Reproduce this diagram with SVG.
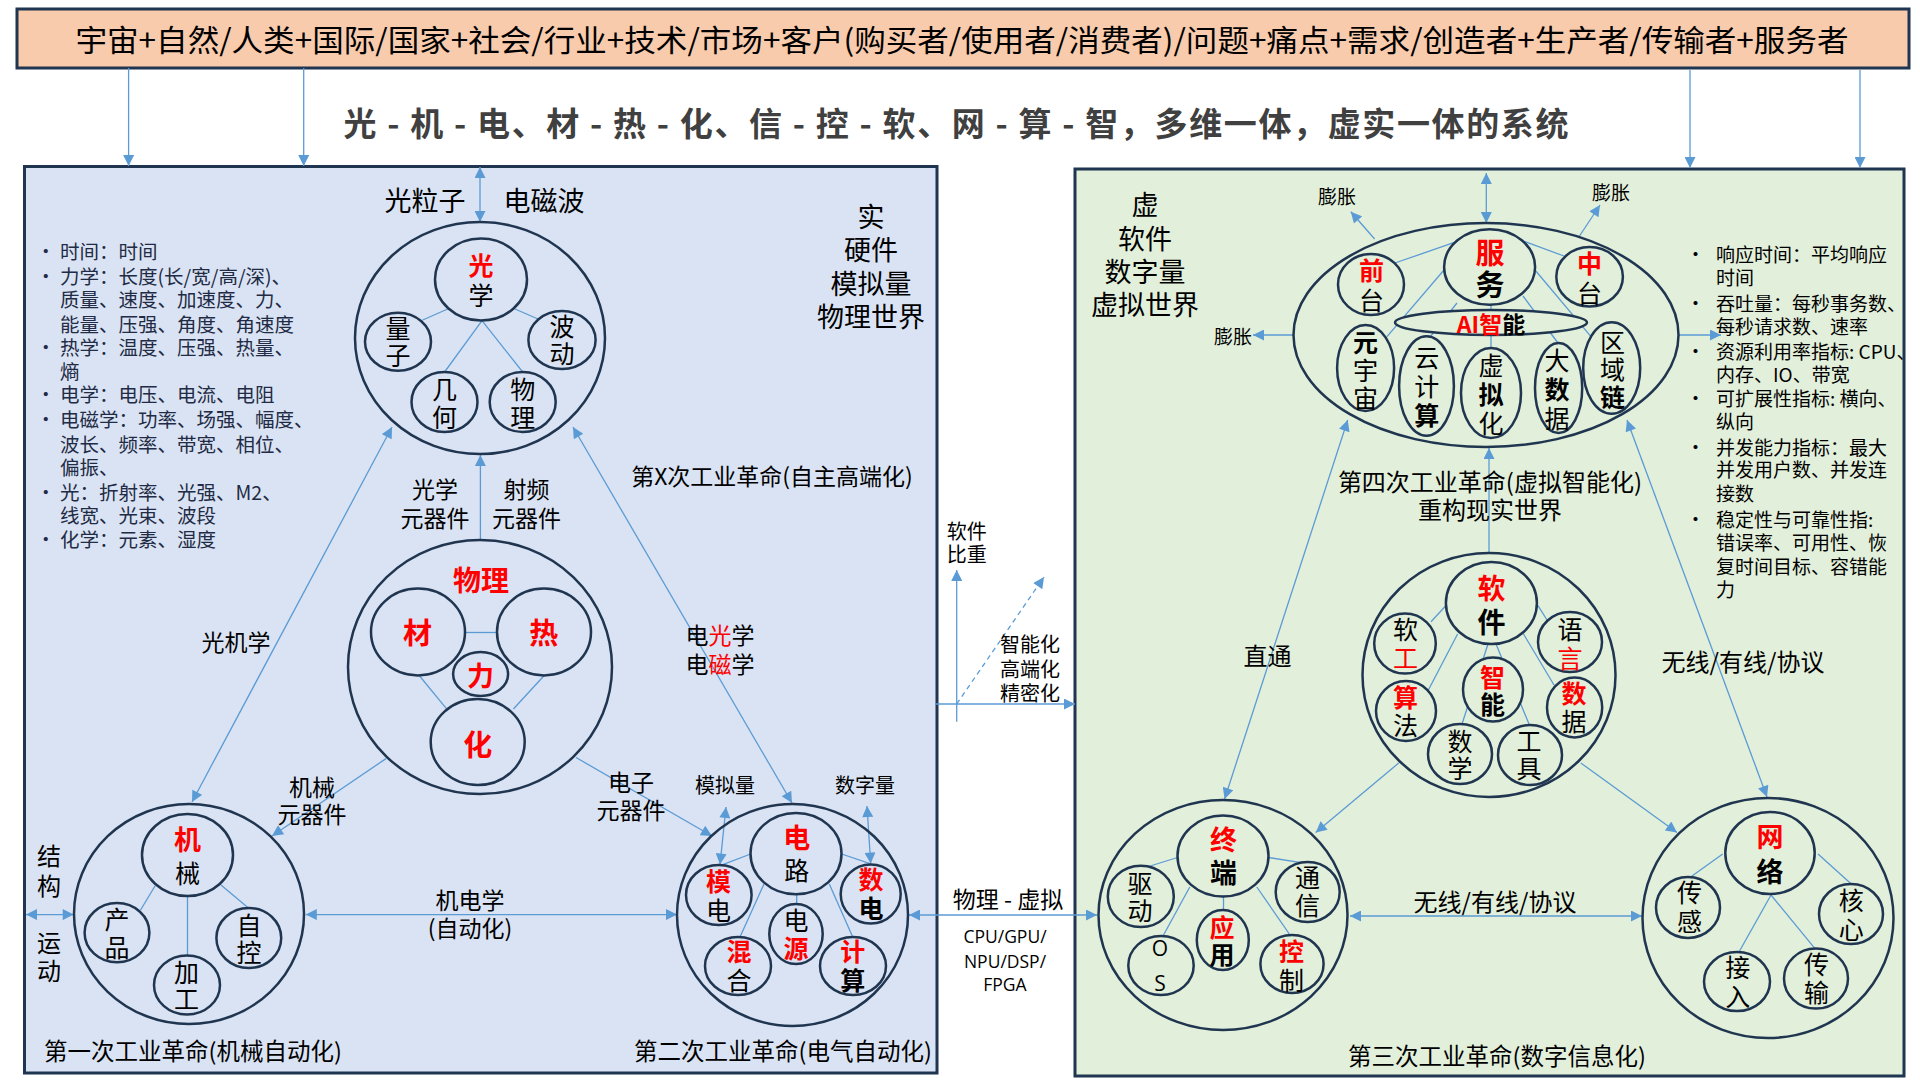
<svg xmlns="http://www.w3.org/2000/svg" width="1920" height="1080" viewBox="0 0 1920 1080">
<defs>
<marker id="ah" viewBox="0 0 10 10" refX="10" refY="5" markerWidth="13" markerHeight="11" markerUnits="userSpaceOnUse" orient="auto-start-reverse">
<path d="M0,0 L10,5 L0,10 z" fill="#5B9BD5"/>
</marker>
<style>
.t{font-family:"Noto Sans CJK SC","Noto Sans",sans-serif;fill:#000;text-anchor:middle;dominant-baseline:central}
.t tspan{dominant-baseline:central}
.v{writing-mode:vertical-rl;text-orientation:upright}
.l{text-anchor:start}
.r{fill:#FF0000;font-weight:bold}
.red{fill:#FF0000}
.b{font-weight:bold}
.o{fill:none;stroke:#1F3550;stroke-width:2.5}
.i{stroke:#1F3550;stroke-width:2.5}
.ib{fill:#DAE3F3}
.ig{fill:#E2EFDA}
.c{fill:none;stroke:#5B9BD5;stroke-width:1.3}
.a{marker-end:url(#ah)}
.a2{marker-start:url(#ah);marker-end:url(#ah)}
.s{font-size:25px}
.m{font-size:23px}
.bl{font-size:19.5px;fill:#222B45}
.br{font-size:19px}
.os{font-family:"Open Sans",sans-serif}
</style>
</defs>
<rect width="1920" height="1080" fill="#FFFFFF"/>
<g id="header">
<rect x="17" y="9" width="1892" height="59" fill="#F8CBAD" stroke="#1F3550" stroke-width="3"/>
<text class="t" x="962" y="38" font-size="30" textLength="1773" lengthAdjust="spacingAndGlyphs">宇宙+自然/人类+国际/国家+社会/行业+技术/市场+客户(购买者/使用者/消费者)/问题+痛点+需求/创造者+生产者/传输者+服务者</text>
</g>
<text class="t b" x="956" y="122" font-size="33" style="fill:#404040" textLength="1225">光 - 机 - 电、材 - 热 - 化、信 - 控 - 软、网 - 算 - 智，多维一体，虚实一体的系统</text>
<rect id="panel-real" x="24.5" y="166.5" width="912.5" height="906.5" fill="#DAE3F3" stroke="#1F3550" stroke-width="3"/>
<rect id="panel-virtual" x="1075" y="169" width="829" height="907" fill="#E2EFDA" stroke="#1F3550" stroke-width="3"/>
<g id="connectors">
<line class="c a" x1="128.6" y1="68" x2="128.6" y2="166"/>
<line class="c a" x1="303.7" y1="68" x2="303.7" y2="166"/>
<line class="c a" x1="1690" y1="70" x2="1690" y2="168"/>
<line class="c a" x1="1860" y1="70" x2="1860" y2="168"/>
<line class="c a2" x1="480" y1="167" x2="480" y2="222"/>
<line class="c a" x1="480.4" y1="540" x2="480.4" y2="455"/>
<line class="c a2" x1="192" y1="802" x2="392" y2="427"/>
<line class="c a2" x1="792" y1="803" x2="573" y2="427"/>
<line class="c a" x1="386" y1="758.6" x2="272" y2="836"/>
<line class="c a" x1="576" y1="757.5" x2="712" y2="836"/>
<line class="c a2" x1="26" y1="914.6" x2="73.7" y2="914.6"/>
<line class="c a2" x1="305.8" y1="914.6" x2="677" y2="914.6"/>
<line class="c a2" x1="726" y1="807" x2="720" y2="864.6"/>
<line class="c a2" x1="867" y1="806" x2="870.7" y2="863.6"/>
<line class="c a2" x1="909" y1="915" x2="1097" y2="915"/>
<line class="c a" x1="956.7" y1="721.7" x2="956.7" y2="570"/>
<line class="c a" x1="935" y1="704" x2="1075" y2="704"/>
<line class="c a" x1="956.7" y1="704" x2="1044" y2="577" stroke-dasharray="5 4"/>
<line class="c a2" x1="1486.3" y1="173" x2="1486.3" y2="223"/>
<line class="c a" x1="1374.6" y1="239" x2="1350.8" y2="211.7"/>
<line class="c a" x1="1579.5" y1="236" x2="1600" y2="205"/>
<line class="c a" x1="1293.8" y1="335" x2="1253" y2="335"/>
<line class="c a" x1="1678.7" y1="335" x2="1721" y2="335"/>
<line class="c a2" x1="1347.7" y1="420" x2="1224.6" y2="799"/>
<line class="c a2" x1="1627" y1="420" x2="1767" y2="797"/>
<line class="c a" x1="1489" y1="553" x2="1489" y2="448"/>
<line class="c a" x1="1398.7" y1="763" x2="1315.7" y2="832.5"/>
<line class="c a" x1="1580.8" y1="763" x2="1677" y2="832.5"/>
<line class="c a2" x1="1350" y1="916" x2="1642" y2="916"/>
</g>
<g id="labels">
<text class="t" x="425" y="199" font-size="27">光粒子</text>
<text class="t" x="544" y="199" font-size="27">电磁波</text>
<text class="t" font-size="27"><tspan x="871" y="215">实</tspan><tspan x="871" y="248">硬件</tspan><tspan x="871" y="282">模拟量</tspan><tspan x="871" y="315">物理世界</tspan></text>
<text class="t m" x="772" y="475">第X次工业革命(自主高端化)</text>
<text class="t m"><tspan x="435" y="488">光学</tspan><tspan x="435" y="517">元器件</tspan></text>
<text class="t m"><tspan x="526.5" y="488">射频</tspan><tspan x="526.5" y="517">元器件</tspan></text>
<text class="t m" x="236" y="641">光机学</text>
<text class="t m"><tspan x="312" y="786">机械</tspan><tspan x="312" y="813">元器件</tspan></text>
<text class="t m"><tspan x="631" y="781">电子</tspan><tspan x="631" y="809">元器件</tspan></text>
<text class="t m"><tspan x="720" y="634">电<tspan class="red">光</tspan>学</tspan><tspan x="720" y="663">电<tspan class="red">磁</tspan>学</tspan></text>
<text class="t" x="725" y="784" font-size="20">模拟量</text>
<text class="t" x="865" y="784" font-size="20">数字量</text>
<text class="t v" x="49" y="874" font-size="24" letter-spacing="6">结构</text>
<text class="t v" x="49" y="959" font-size="24" letter-spacing="4">运动</text>
<text class="t m"><tspan x="470" y="898.6">机电学</tspan><tspan x="470" y="927">(自动化)</tspan></text>
<text class="t" x="193" y="1050" font-size="23.5">第一次工业革命(机械自动化)</text>
<text class="t" x="783" y="1050" font-size="23.5">第二次工业革命(电气自动化)</text>
<text class="t m" x="1008" y="898">物理 - 虚拟</text>
<text class="t os" font-size="17.5"><tspan x="1005" y="936">CPU/GPU/</tspan><tspan x="1005" y="961">NPU/DSP/</tspan><tspan x="1005" y="984">FPGA</tspan></text>
<text class="t l" font-size="20"><tspan x="946.7" y="530">软件</tspan><tspan x="946.7" y="553">比重</tspan></text>
<text class="t l" font-size="20"><tspan x="1000" y="643">智能化</tspan><tspan x="1000" y="668">高端化</tspan><tspan x="1000" y="692">精密化</tspan></text>
<text class="t" font-size="27"><tspan x="1145" y="203">虚</tspan><tspan x="1145" y="237">软件</tspan><tspan x="1145" y="270">数字量</tspan><tspan x="1145" y="303">虚拟世界</tspan></text>
<text class="t" x="1337" y="195" font-size="19">膨胀</text>
<text class="t" x="1611" y="191" font-size="19">膨胀</text>
<text class="t" x="1233" y="335" font-size="19">膨胀</text>
<text class="t" font-size="24"><tspan x="1490" y="480">第四次工业革命(虚拟智能化)</tspan><tspan x="1490" y="508">重构现实世界</tspan></text>
<text class="t" x="1267.5" y="654" font-size="24">直通</text>
<text class="t" x="1743" y="660" font-size="24">无线/有线/协议</text>
<text class="t" x="1495" y="900" font-size="24">无线/有线/协议</text>
<text class="t" x="1497" y="1055" font-size="23.5">第三次工业革命(数字信息化)</text>
</g>
<g id="bullets-physical">
<text class="t l bl">
<tspan x="36" y="250">•</tspan><tspan x="60" y="250">时间：时间</tspan>
<tspan x="36" y="275">•</tspan><tspan x="60" y="275">力学：长度(长/宽/高/深)、</tspan>
<tspan x="60" y="298">质量、速度、加速度、力、</tspan>
<tspan x="60" y="322.7">能量、压强、角度、角速度</tspan>
<tspan x="36" y="346">•</tspan><tspan x="60" y="346">热学：温度、压强、热量、</tspan>
<tspan x="60" y="370">熵</tspan>
<tspan x="36" y="393">•</tspan><tspan x="60" y="393">电学：电压、电流、电阻</tspan>
<tspan x="36" y="418">•</tspan><tspan x="60" y="418">电磁学：功率、场强、幅度、</tspan>
<tspan x="60" y="442.7">波长、频率、带宽、相位、</tspan>
<tspan x="60" y="466">偏振、</tspan>
<tspan x="36" y="491">•</tspan><tspan x="60" y="491">光：折射率、光强、M2、</tspan>
<tspan x="60" y="514">线宽、光束、波段</tspan>
<tspan x="36" y="537.7">•</tspan><tspan x="60" y="537.7">化学：元素、湿度</tspan>
</text>
</g>
<g id="bullets-virtual">
<text class="t l br">
<tspan x="1686" y="253">•</tspan><tspan x="1716" y="253">响应时间：平均响应</tspan>
<tspan x="1716" y="276">时间</tspan>
<tspan x="1686" y="301.7">•</tspan><tspan x="1716" y="301.7">吞吐量：每秒事务数、</tspan>
<tspan x="1716" y="325">每秒请求数、速率</tspan>
<tspan x="1686" y="350">•</tspan><tspan x="1716" y="350">资源利用率指标: CPU、</tspan>
<tspan x="1716" y="372.7">内存、IO、带宽</tspan>
<tspan x="1686" y="396.7">•</tspan><tspan x="1716" y="396.7">可扩展性指标: 横向、</tspan>
<tspan x="1716" y="420">纵向</tspan>
<tspan x="1686" y="446">•</tspan><tspan x="1716" y="446">并发能力指标：最大</tspan>
<tspan x="1716" y="468.3">并发用户数、并发连</tspan>
<tspan x="1716" y="491.7">接数</tspan>
<tspan x="1686" y="517.7">•</tspan><tspan x="1716" y="517.7">稳定性与可靠性指:</tspan>
<tspan x="1716" y="541">错误率、可用性、恢</tspan>
<tspan x="1716" y="565">复时间目标、容错能</tspan>
<tspan x="1716" y="588.3">力</tspan>
</text>
</g>
<g id="node-optics">
<ellipse class="o" cx="480" cy="338" rx="125" ry="116"/>
<g class="c"><line x1="447.7" y1="309" x2="422.7" y2="320"/><line x1="515" y1="309" x2="538" y2="319"/><line x1="482" y1="320.7" x2="444.6" y2="372"/><line x1="482" y1="320.7" x2="522.7" y2="372"/></g>
<g class="i ib">
<ellipse cx="481" cy="279.5" rx="46" ry="41"/><ellipse cx="398" cy="341.7" rx="33" ry="29"/><ellipse cx="562" cy="340" rx="33.6" ry="29"/><ellipse cx="444.5" cy="402" rx="33" ry="30"/><ellipse cx="522.7" cy="402" rx="33" ry="30"/>
</g>
<text class="t s v" x="481" y="282.5" letter-spacing="5"><tspan class="r">光</tspan>学</text>
<text class="t s v" x="398" y="342.5" letter-spacing="2">量子</text>
<text class="t s v" x="562" y="340.5" letter-spacing="2">波动</text>
<text class="t s v" x="444.5" y="404.5" letter-spacing="3">几何</text>
<text class="t s v" x="522.7" y="404.5" letter-spacing="3">物理</text>
</g>
<g id="node-physics">
<ellipse class="o" cx="480" cy="667" rx="132" ry="127"/>
<text class="t r" x="481" y="579" font-size="28">物理</text>
<g class="c"><line x1="465" y1="632.5" x2="497" y2="632.5"/><line x1="419.6" y1="676" x2="446.4" y2="708.6"/><line x1="543.75" y1="676" x2="513.4" y2="709"/></g>
<g class="i ib">
<ellipse cx="418" cy="632" rx="47" ry="43.4"/><ellipse cx="544" cy="632" rx="47" ry="43.4"/><ellipse cx="480.6" cy="674" rx="27.5" ry="22"/><ellipse cx="477.7" cy="742" rx="47" ry="43"/>
</g>
<text class="t r" x="417.4" y="631" font-size="29">材</text>
<text class="t r" x="543.75" y="631" font-size="29">热</text>
<text class="t r" x="480.4" y="674" font-size="27">力</text>
<text class="t r" x="477.7" y="743" font-size="29">化</text>
</g>
<g id="node-mechanical">
<ellipse class="o" cx="189" cy="914" rx="115" ry="110"/>
<g class="c"><line x1="155" y1="886" x2="140.6" y2="910"/><line x1="221" y1="885" x2="247.8" y2="907.5"/><line x1="187.5" y1="896" x2="187.5" y2="955.7"/></g>
<g class="i ib">
<ellipse cx="187.5" cy="855" rx="45.5" ry="41"/><ellipse cx="117" cy="932.7" rx="32.4" ry="29.6"/><ellipse cx="248.8" cy="938" rx="32.4" ry="30"/><ellipse cx="187" cy="985" rx="33" ry="29.5"/>
</g>
<text class="t s v" x="187.5" y="859.5" letter-spacing="7"><tspan class="r" font-size="27">机</tspan>械</text>
<text class="t s v" x="117" y="934.5" letter-spacing="3">产品</text>
<text class="t s v" x="249" y="939.5" letter-spacing="2">自控</text>
<text class="t s v" x="186.6" y="986.5" letter-spacing="2">加工</text>
</g>
<g id="node-electrical">
<ellipse class="o" cx="792.5" cy="915" rx="115.5" ry="111"/>
<g class="c"><line x1="750.7" y1="854" x2="722.7" y2="864.6"/><line x1="841.7" y1="854" x2="870" y2="863.6"/><line x1="796.7" y1="894" x2="796.7" y2="904"/><line x1="764" y1="884" x2="740" y2="937"/><line x1="829.3" y1="884" x2="852.7" y2="937"/></g>
<g class="i ib">
<ellipse cx="796" cy="853.6" rx="45.5" ry="40.7"/><ellipse cx="718.8" cy="895" rx="32.8" ry="30"/><ellipse cx="870.7" cy="894" rx="30" ry="29.5"/><ellipse cx="796" cy="934" rx="26.7" ry="30"/><ellipse cx="738" cy="966" rx="33" ry="29"/><ellipse cx="853" cy="966" rx="33" ry="29"/>
</g>
<text class="t s v" x="796.7" y="857" letter-spacing="7"><tspan class="r" font-size="27">电</tspan>路</text>
<text class="t s v" x="718.5" y="897.5" letter-spacing="4"><tspan class="r">模</tspan>电</text>
<text class="t s v" x="871" y="896" letter-spacing="3.6"><tspan class="r">数</tspan><tspan class="b">电</tspan></text>
<text class="t s v" x="796" y="936" letter-spacing="3"><tspan>电</tspan><tspan class="r">源</tspan></text>
<text class="t s v" x="739" y="968" letter-spacing="3.7"><tspan class="r">混</tspan>合</text>
<text class="t s v" x="852.7" y="968" letter-spacing="3.7"><tspan class="r">计</tspan><tspan class="b">算</tspan></text>
</g>
<g id="node-virtual">
<ellipse class="o" cx="1486" cy="335" rx="192.5" ry="112"/>
<g class="c"><line x1="1453.7" y1="242.7" x2="1395" y2="263"/><line x1="1525" y1="241.7" x2="1564" y2="256"/><line x1="1444" y1="270" x2="1387" y2="336.7"/><line x1="1535" y1="270" x2="1591" y2="336.7"/><line x1="1457" y1="303" x2="1430" y2="337"/><line x1="1491" y1="305" x2="1491" y2="348"/><line x1="1523" y1="296" x2="1558" y2="343"/></g>
<g class="i ig">
<ellipse cx="1489.6" cy="267" rx="45.5" ry="37.8"/><ellipse cx="1371" cy="284.5" rx="33" ry="30.5"/><ellipse cx="1589.6" cy="276.8" rx="33.3" ry="29.7"/><ellipse cx="1491" cy="322.5" rx="96" ry="12.5"/><ellipse cx="1365.6" cy="368" rx="28.5" ry="43"/><ellipse cx="1426.5" cy="386" rx="27.4" ry="49.7"/><ellipse cx="1491" cy="393" rx="30" ry="45"/><ellipse cx="1558.6" cy="388" rx="23.6" ry="45"/><ellipse cx="1611.7" cy="368" rx="28.5" ry="45.7"/>
</g>
<text class="t b v" x="1490" y="270.5" font-size="29" letter-spacing="3"><tspan class="red">服</tspan>务</text>
<text class="t s v" x="1371.5" y="287.5" letter-spacing="5"><tspan class="r">前</tspan>台</text>
<text class="t s v" x="1589.6" y="280.5" letter-spacing="5"><tspan class="r">中</tspan>台</text>
<text class="t b" x="1491" y="323" font-size="23"><tspan class="red">AI智</tspan>能</text>
<text class="t s v" x="1365.5" y="371.5" letter-spacing="3"><tspan class="b">元</tspan>宇宙</text>
<text class="t s v" x="1426.8" y="388" letter-spacing="4">云计<tspan class="b">算</tspan></text>
<text class="t s v" x="1491" y="396" letter-spacing="4">虚<tspan class="b">拟</tspan>化</text>
<text class="t s v" x="1557" y="391" letter-spacing="4">大<tspan class="b">数</tspan>据</text>
<text class="t s v" x="1612.6" y="371" letter-spacing="2.5">区域<tspan class="b">链</tspan></text>
</g>
<g id="node-software">
<ellipse class="o" cx="1489" cy="675" rx="126.5" ry="122"/>
<g class="c"><line x1="1445.8" y1="605.7" x2="1431" y2="621.8"/><line x1="1538" y1="605.7" x2="1547" y2="620"/><line x1="1457.6" y1="634" x2="1428" y2="690.7"/><line x1="1523.5" y1="634" x2="1554" y2="685"/><line x1="1488" y1="644" x2="1462" y2="724"/><line x1="1496" y1="644" x2="1529" y2="724"/></g>
<g class="i ig">
<ellipse cx="1491.4" cy="603" rx="45.5" ry="41"/><ellipse cx="1405" cy="643.6" rx="30.8" ry="30"/><ellipse cx="1570" cy="642" rx="32" ry="30"/><ellipse cx="1406" cy="711" rx="30" ry="30"/><ellipse cx="1493" cy="689.6" rx="30" ry="32"/><ellipse cx="1574.6" cy="707.5" rx="27.6" ry="30"/><ellipse cx="1460" cy="754" rx="32" ry="30"/><ellipse cx="1530" cy="755" rx="32" ry="30"/>
</g>
<text class="t b v" x="1491.4" y="608" font-size="28" letter-spacing="6"><tspan class="red">软</tspan>件</text>
<text class="t s v" x="1405.6" y="645" letter-spacing="3.5">软<tspan class="red">工</tspan></text>
<text class="t s v" x="1570" y="645" letter-spacing="3.5">语<tspan class="red">言</tspan></text>
<text class="t s v" x="1405.6" y="712.5" letter-spacing="3"><tspan class="r">算</tspan>法</text>
<text class="t s v" x="1492.4" y="691.5" letter-spacing="2"><tspan class="r">智</tspan><tspan class="b">能</tspan></text>
<text class="t s v" x="1574" y="708.5" letter-spacing="3"><tspan class="r">数</tspan>据</text>
<text class="t s v" x="1460" y="755.5" letter-spacing="2">数学</text>
<text class="t s v" x="1529" y="755.5" letter-spacing="2">工具</text>
</g>
<g id="node-terminal">
<ellipse class="o" cx="1223" cy="915" rx="124.5" ry="115"/>
<g class="c"><line x1="1177.5" y1="857.5" x2="1147" y2="867"/><line x1="1268.5" y1="857.5" x2="1307.6" y2="863.6"/><line x1="1189.8" y1="887" x2="1163" y2="936"/><line x1="1223.5" y1="896.8" x2="1223.5" y2="910"/><line x1="1256.8" y1="887" x2="1290" y2="935"/></g>
<g class="i ig">
<ellipse cx="1223" cy="856" rx="45.5" ry="40.5"/><ellipse cx="1140.8" cy="896.4" rx="33" ry="30.7"/><ellipse cx="1307.7" cy="892" rx="32" ry="30"/><ellipse cx="1161" cy="965.5" rx="32.7" ry="29.5"/><ellipse cx="1222.8" cy="940" rx="26" ry="30"/><ellipse cx="1292" cy="964" rx="31.6" ry="29"/>
</g>
<text class="t b v" x="1223.5" y="859.5" font-size="27" letter-spacing="6"><tspan class="red">终</tspan>端</text>
<text class="t s v" x="1140" y="898.5" letter-spacing="2.4">驱动</text>
<text class="t s v" x="1307.6" y="893.2" letter-spacing="2.7">通信</text>
<text class="t v os" x="1160" y="969.5" font-size="21" letter-spacing="7.6">OS</text>
<text class="t s v" x="1222" y="941.5" letter-spacing="2"><tspan class="r">应</tspan><tspan class="b">用</tspan></text>
<text class="t s v" x="1291.6" y="967.5" letter-spacing="3.6"><tspan class="r">控</tspan>制</text>
</g>
<g id="node-network">
<ellipse class="o" cx="1768" cy="918" rx="125.5" ry="120"/>
<g class="c"><line x1="1722.7" y1="854" x2="1690.6" y2="877"/><line x1="1818" y1="854" x2="1851.3" y2="884"/><line x1="1771" y1="895" x2="1739" y2="952"/><line x1="1771" y1="895" x2="1815" y2="948.6"/></g>
<g class="i ig">
<ellipse cx="1770" cy="853" rx="44.7" ry="41"/><ellipse cx="1688" cy="907.5" rx="32" ry="30.4"/><ellipse cx="1851" cy="914" rx="32" ry="30"/><ellipse cx="1737" cy="981.6" rx="33" ry="29.5"/><ellipse cx="1816" cy="978.6" rx="32" ry="30"/>
</g>
<text class="t b v" x="1770" y="858.5" font-size="27" letter-spacing="8"><tspan class="red">网</tspan>络</text>
<text class="t s v" x="1689.5" y="909.3" letter-spacing="3.8">传感</text>
<text class="t s v" x="1851.3" y="916.5" letter-spacing="4">核心</text>
<text class="t s v" x="1737.7" y="984.3" letter-spacing="3.8">接入</text>
<text class="t s v" x="1816.5" y="980.5" letter-spacing="3.4">传输</text>
</g>
</svg>
